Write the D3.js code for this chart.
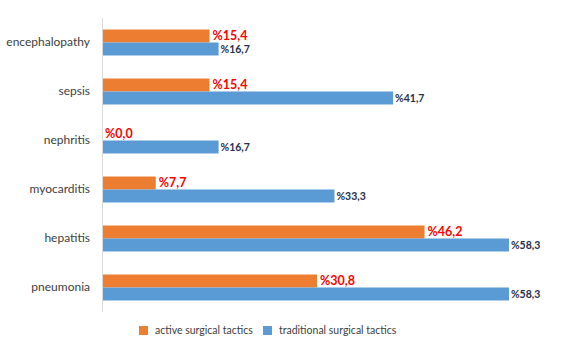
<!DOCTYPE html>
<html><head><meta charset="utf-8">
<script src="https://cdn.jsdelivr.net/npm/d3@7"></script>
<style>body{margin:0;background:#fff}svg{display:block}</style>
</head><body>
<script>
const categories = ["encephalopathy","sepsis","nephritis","myocarditis","hepatitis","pneumonia"];
const activeValues = [15.4,15.4,0.0,7.7,46.2,30.8];
const traditionalValues = [16.7,41.7,16.7,33.3,58.3,58.3];
const seriesNames = ["active surgical tactics","traditional surgical tactics"];
const colors = ["#ed7d31","#5b9bd5"];

const W=563,H=353;
const svg=d3.select("body").append("svg").attr("width",W).attr("height",H);
const x=d3.scaleLinear().domain([0,58.3]).range([102,509]);
const y=d3.scaleBand().domain(categories).range([18,312]).paddingInner(0.47).paddingOuter(0.235);
const fmt=v=>"%"+v.toFixed(1).replace(".",",");
const font="Lato, 'Open Sans', sans-serif";

// axis line
svg.append("line").attr("x1",x(0)+0.5).attr("x2",x(0)+0.5).attr("y1",18).attr("y2",312)
  .attr("stroke","#d9d9d9").attr("stroke-width",1);

const bh=y.bandwidth()/2;
const g=svg.append("g");
categories.forEach((c,i)=>{
  const y0=y(c);
  g.append("rect").attr("x",x(0)+1).attr("y",y0).attr("width",Math.max(0,x(activeValues[i])-x(0)-1)).attr("height",bh).attr("fill",colors[0]);
  g.append("rect").attr("x",x(0)+1).attr("y",y0+bh).attr("width",x(traditionalValues[i])-x(0)-1).attr("height",bh).attr("fill",colors[1]);
  g.append("text").attr("x",x(activeValues[i])+3).attr("y",y0+bh/2-0.5).attr("dy","0.35em")
    .attr("font-family",font).attr("font-size",12.5).attr("font-weight","bold").attr("fill","#ff0000").text(fmt(activeValues[i]));
  g.append("text").attr("x",x(traditionalValues[i])+2).attr("y",y0+bh+bh/2+0.5).attr("dy","0.35em")
    .attr("font-family",font).attr("font-size",10.5).attr("font-weight","bold").attr("fill","#1f3050").text(fmt(traditionalValues[i]));
  g.append("text").attr("x",90).attr("y",y0+bh-1).attr("dy","0.35em").attr("text-anchor","end")
    .attr("font-family",font).attr("font-size",12).attr("fill","#404040").text(c);
});

// legend
const leg=svg.append("g");
const lx=[139,263];
seriesNames.forEach((n,i)=>{
  leg.append("rect").attr("x",lx[i]).attr("y",326).attr("width",9).attr("height",9).attr("fill",colors[i]);
  leg.append("text").attr("x",lx[i]+16).attr("y",330.5).attr("dy","0.35em").attr("font-family",font)
    .attr("font-size",10.5).attr("fill","#404040").text(n);
});
</script>
</body></html>
